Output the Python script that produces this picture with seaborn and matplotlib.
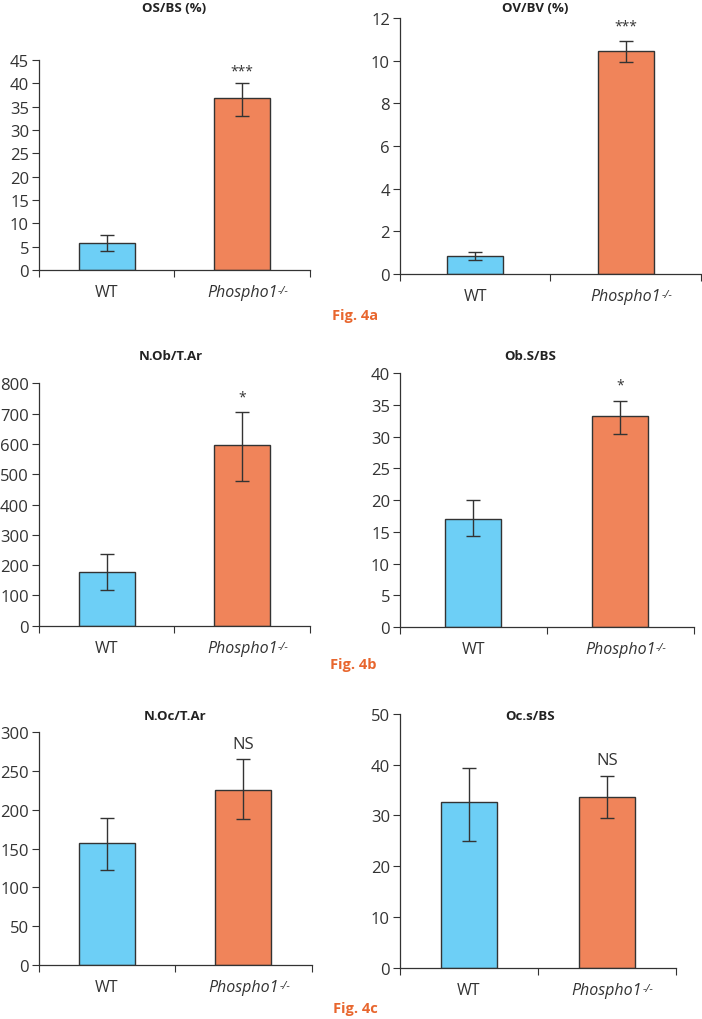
import numpy as np
import pandas as pd
import seaborn as sns
import matplotlib.pyplot as plt
from matplotlib.transforms import IdentityTransform

# Panel values (mean, lower/upper end of error bar)
titles = ['OS/BS (%)', 'OV/BV (%)', 'N.Ob/T.Ar', 'Ob.S/BS', 'N.Oc/T.Ar', 'Oc.s/BS']
genotypes = ['WT', 'Phospho1']
wt_mean = [5.8, 0.82, 177, 17.1, 157, 32.6]
wt_lo = [4.0, 0.63, 118, 14.3, 123, 24.9]
wt_hi = [7.4, 1.0, 237, 20.0, 190, 39.3]
ko_mean = [36.9, 10.45, 596, 33.2, 226, 33.6]
ko_lo = [33.1, 9.95, 477, 30.5, 188, 29.4]
ko_hi = [40.0, 10.93, 706, 35.7, 265, 37.7]
signif = ['***', '***', '*', '*', 'NS', 'NS']
y_max = [45, 12, 800, 40, 300, 50]
y_step = [5, 2, 100, 5, 50, 10]
fig_labels = ['Fig. 4a', 'Fig. 4b', 'Fig. 4c']

sns.set_style('ticks')
plt.rcParams['font.family'] = ['Open Sans', 'DejaVu Sans']

W, H = 702, 1020
blue = '#6dcff6'
orange = '#f0845a'
dark = '#333333'
fig_orange = '#e8662e'

# axes boxes in pixels: left, right, top, bottom
boxes = [(38.7, 310, 61, 271), (399.7, 701, 19.3, 274.7),
         (38.7, 310, 384.3, 626.7), (399.7, 693.7, 374.3, 628),
         (38.7, 311.7, 733.3, 966), (399.7, 676, 714.7, 969)]
title_pos = [(174, 8), (535, 8), (171, 357), (530, 357), (175, 717), (530, 717)]
label_pos = [(355, 316), (353, 665), (355, 1009)]

fig = plt.figure(figsize=(W / 100, H / 100), dpi=100)
axes = []

for i in range(6):
    l, r, t, b = boxes[i]
    ax = fig.add_axes([l / W, 1 - b / H, (r - l) / W, (b - t) / H])
    axes.append(ax)
    df = pd.DataFrame({'genotype': genotypes, 'value': [wt_mean[i], ko_mean[i]]})
    bar_w = 56 / ((r - l) / 2)
    sns.barplot(data=df, x='genotype', y='value', hue='genotype',
                palette=[blue, orange], saturation=1, width=bar_w, edgecolor=dark,
                linewidth=1, errorbar=None, legend=False, ax=ax)
    means = np.array([wt_mean[i], ko_mean[i]])
    lows = np.array([wt_lo[i], ko_lo[i]])
    highs = np.array([wt_hi[i], ko_hi[i]])
    ax.errorbar([0, 1], means, yerr=[means - lows, highs - means], fmt='none',
                ecolor=dark, elinewidth=1, capsize=5, capthick=1)

    # significance mark above the knockout bar
    if signif[i] == 'NS':
        ax.text(1, highs[1] + 0.065 * y_max[i], signif[i], ha='center', va='center',
                fontsize=12, color=dark)
    else:
        ax.text(1, highs[1] + 0.06 * y_max[i], signif[i], ha='center', va='center',
                fontsize=10, color=dark)

    ax.set_xlim(-0.5, 1.5)
    ax.set_ylim(0, y_max[i])
    ax.set_yticks(np.arange(0, y_max[i] + y_step[i] / 2, y_step[i]))
    ax.set_xticks([0, 1])
    ax.set_xticklabels(genotypes, fontsize=11.5, color=dark)
    ax.get_xticklabels()[1].set_style('italic')
    ax.set_xticks([-0.5, 0.5, 1.5], minor=True)
    ax.tick_params(axis='x', which='major', length=0, pad=10)
    ax.tick_params(axis='x', which='minor', length=5, width=0.8, direction='out', color=dark)
    ax.tick_params(axis='y', length=5, width=0.8, pad=2, labelsize=12, color=dark, labelcolor=dark)
    ax.set_xlabel('')
    ax.set_ylabel('')
    for side in ['top', 'right']:
        ax.spines[side].set_visible(False)
    for side in ['left', 'bottom']:
        ax.spines[side].set_color(dark)
        ax.spines[side].set_linewidth(0.9)

    tx, ty = title_pos[i]
    fig.text(tx / W, 1 - ty / H, titles[i], ha='center', va='center',
             fontsize=9.5, fontweight='bold', color='#222222')

for k in range(3):
    lx, ly = label_pos[k]
    fig.text(lx / W, 1 - ly / H, fig_labels[k], ha='center', va='center',
             fontsize=10.5, fontweight='bold', color=fig_orange)

# superscript -/- after the italic Phospho1 tick label
fig.canvas.draw()
renderer = fig.canvas.get_renderer()
for ax in axes:
    bb = ax.get_xticklabels()[1].get_window_extent(renderer)
    fig.text(bb.x1 + 0.5, bb.y1 - 1, '-/-', transform=IdentityTransform(),
             ha='left', va='top', fontsize=8, style='italic', color=dark)

fig.savefig('out.png', dpi=100)
